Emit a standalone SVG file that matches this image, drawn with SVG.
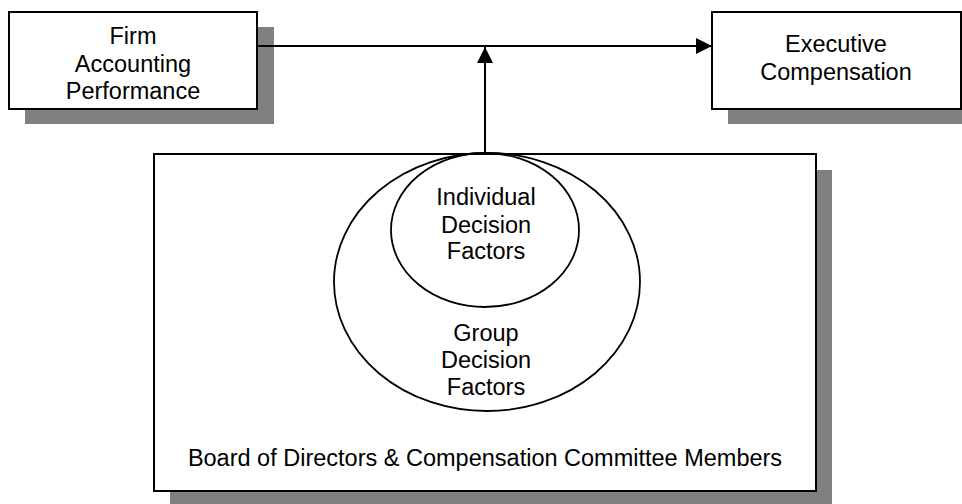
<svg xmlns="http://www.w3.org/2000/svg" width="962" height="504" viewBox="0 0 962 504">
  <style>
    .shadow { fill: #808080; stroke: none; }
    .box { fill: #ffffff; stroke: #000000; stroke-width: 2; }
    .ring { fill: none; stroke: #000000; stroke-width: 1.8; }
    .label { font-family: "Liberation Sans", Arial, sans-serif; font-size: 23.5px; fill: #000000; text-anchor: middle; }
    .wire { stroke: #000000; stroke-width: 2; fill: none; }
  </style>
  <defs>
    <marker id="head" viewBox="0 0 16 16" refX="16" refY="8" markerWidth="16" markerHeight="16" markerUnits="userSpaceOnUse" orient="auto">
      <path d="M0,0 L16,8 L0,16 Z" fill="#000000"/>
    </marker>
  </defs>
  <rect width="962" height="504" fill="#ffffff"/>

  <!-- Board / committee container with the two decision-factor rings -->
  <g id="board">
    <rect class="shadow" x="170" y="170" width="662" height="337"/>
    <rect class="box" x="154" y="154" width="662" height="337"/>
    <text class="label" x="485" y="466">Board of Directors &amp; Compensation Committee Members</text>
  </g>
  <g id="group-factors">
    <ellipse class="ring" cx="487" cy="282" rx="153" ry="129"/>
    <text class="label" x="486" y="341">Group</text>
    <text class="label" x="486" y="368">Decision</text>
    <text class="label" x="486" y="395">Factors</text>
  </g>
  <g id="individual-factors">
    <ellipse class="ring" cx="485" cy="230" rx="94" ry="77"/>
    <text class="label" x="486" y="205">Individual</text>
    <text class="label" x="486" y="233">Decision</text>
    <text class="label" x="486" y="259">Factors</text>
  </g>

  <!-- Firm accounting performance -->
  <g id="performance">
    <rect class="shadow" x="25" y="27" width="249" height="97"/>
    <rect class="box" x="9" y="12" width="248" height="97"/>
    <text class="label" x="133" y="44">Firm</text>
    <text class="label" x="133" y="72">Accounting</text>
    <text class="label" x="133" y="99">Performance</text>
  </g>

  <!-- Executive compensation -->
  <g id="compensation">
    <rect class="shadow" x="728" y="27" width="250" height="97"/>
    <rect class="box" x="712" y="12" width="249" height="97"/>
    <text class="label" x="836" y="52">Executive</text>
    <text class="label" x="836" y="80">Compensation</text>
  </g>

  <!-- Connectors -->
  <g id="connectors">
    <line class="wire" x1="257" y1="46" x2="712" y2="46" marker-end="url(#head)"/>
    <line class="wire" x1="485" y1="154" x2="485" y2="47" marker-end="url(#head)"/>
  </g>
</svg>
